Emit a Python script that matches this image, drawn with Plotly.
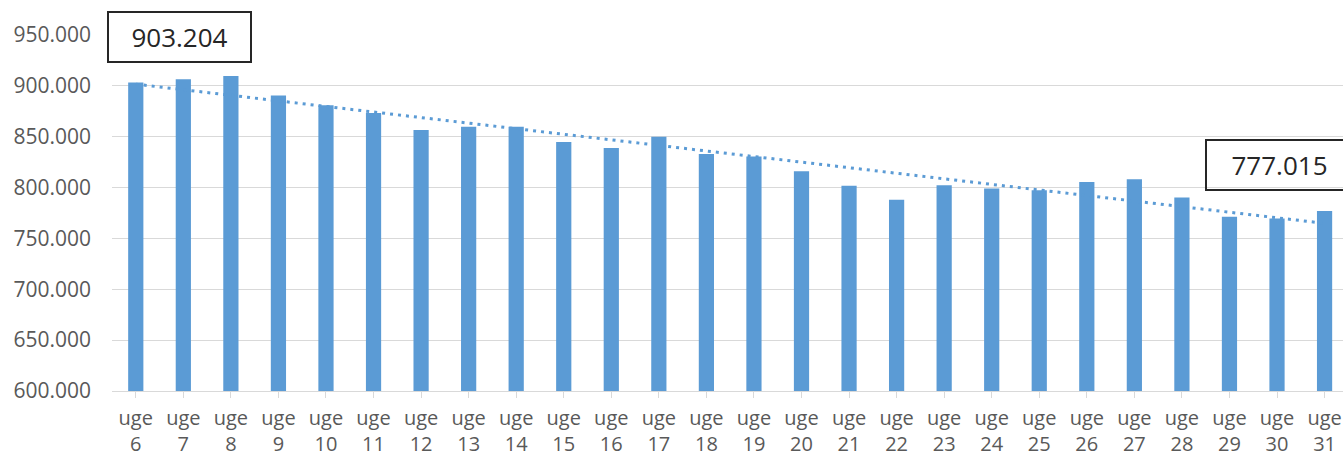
import numpy as np
import plotly.graph_objects as go

# Weekly totals, week 6 to week 31
weeks = [6, 7, 8, 9, 10, 11, 12, 13, 14, 15, 16, 17, 18, 19, 20, 21, 22, 23, 24, 25, 26, 27, 28, 29, 30, 31]
week_labels = [f"uge<br>{w}" for w in weeks]
values = [903204, 906500, 909800, 890500, 881000, 873200, 856600, 859800, 859800, 844800,
          839000, 850000, 833000, 830500, 816000, 801700, 788000, 802300, 799000, 797300,
          805600, 808300, 790300, 771300, 769600, 777015]
y_ticks = [600000, 650000, 700000, 750000, 800000, 850000, 900000, 950000]

BLUE = "#5B9BD5"
GREY_TXT = "#595959"
GRID = "#D9D9D9"
FONT = "Open Sans"

x_idx = np.arange(len(values))

# Linear least-squares trend over the weeks
slope, intercept = np.polyfit(x_idx, np.array(values, dtype=float), 1)
trend = slope * x_idx + intercept

def dk(v):
    return f"{v:,}".replace(",", ".")

fig = go.Figure()
fig.add_trace(go.Bar(
    x=x_idx, y=values,
    marker=dict(color=BLUE, line=dict(width=0)),
    hoverinfo="skip",
))
fig.add_trace(go.Scatter(
    x=x_idx, y=trend, mode="lines",
    line=dict(color=BLUE, width=3, dash="3px,5px"),
    hoverinfo="skip",
))

box_style = dict(
    showarrow=False,
    font=dict(family=FONT, size=26, color="#262626"),
    bordercolor="#262626", borderwidth=2, borderpad=0,
    bgcolor="rgba(255,255,255,0)",
    height=48,
    yref="y", xref="x",
)
fig.add_annotation(x=0, xshift=44, y=948500, width=141, text=dk(values[0]), **box_style)
fig.add_annotation(x=24, xshift=2, y=822300, width=145, text=dk(values[-1]), **box_style)

plot_left = 112.3
cat_w = 47.54
x_end = -0.5 + (1343 - plot_left) / cat_w

fig.update_layout(
    width=1343, height=456,
    margin=dict(l=plot_left, r=0, t=34.5, b=65.3),
    paper_bgcolor="white", plot_bgcolor="white",
    showlegend=False,
    bargap=0.68,
    separators=",.",
    font=dict(family=FONT, size=21, color=GREY_TXT),
)
fig.update_xaxes(
    range=[-0.5, x_end],
    automargin=False,
    tickmode="array", tickvals=list(x_idx), ticktext=week_labels,
    tickson="boundaries", ticks="outside", ticklen=6, tickcolor=GRID, tickwidth=1.3,
    showline=True, linecolor=GRID, linewidth=1.3,
    showgrid=False, zeroline=False,
    ticklabelstandoff=3,
    tickfont=dict(family=FONT, size=20, color=GREY_TXT),
    fixedrange=True,
)
fig.update_yaxes(
    range=[600000, 950000],
    automargin=False,
    tickmode="array", tickvals=y_ticks, ticktext=[dk(v) for v in y_ticks],
    showgrid=True, gridcolor=GRID, gridwidth=1.3,
    showline=False, zeroline=False, ticks="",
    ticklabelstandoff=20,
    tickfont=dict(family=FONT, size=21, color=GREY_TXT),
    fixedrange=True,
)

fig.write_html("out.html", config={"displayModeBar": False})
